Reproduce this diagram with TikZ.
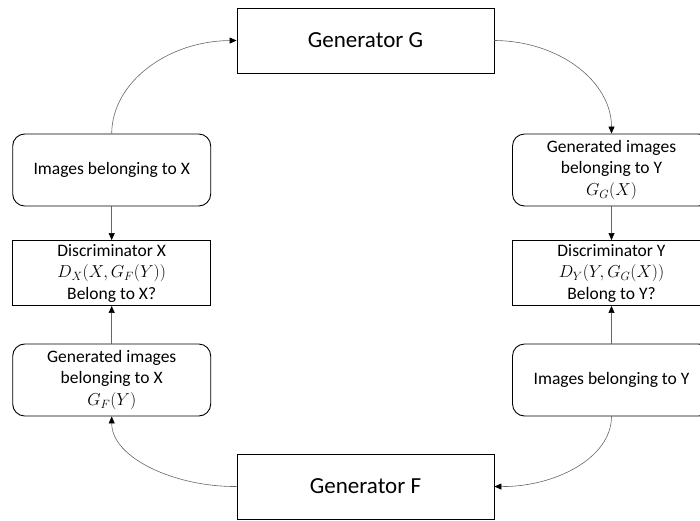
\documentclass[tikz,border=0pt]{standalone}
\usepackage{fontspec}
\setmainfont{Carlito}
\usetikzlibrary{arrows.meta}
\begin{document}
\begin{tikzpicture}[x=1pt,y=-1pt,
  box/.style={draw=black, line width=0.9pt, minimum width=198pt, align=center,
    font=\fontsize{17.5}{21.5}\selectfont, inner sep=0pt},
  rbox/.style={box, rounded corners=12pt, minimum height=72pt},
  dbox/.style={box, minimum height=65pt},
  gbox/.style={draw=black, line width=0.9pt, minimum width=257pt, minimum height=65pt,
    font=\fontsize{23}{26}\selectfont},
  link/.style={draw=black!60, line width=0.6pt,
    -{Triangle[length=7pt,width=6pt,color=black]}}]
\useasboundingbox (0,0) rectangle (700,520);

% generators
\node[gbox] (G) at (365.5,40.5) {Generator G};
\node[gbox] (F) at (365.5,486.5) {Generator F};

% left column: domain X
\node[rbox] (imgX) at (111.7,170) {Images belonging to X};
\node[dbox] (discX) at (111.7,273) {Discriminator X\\ $D_X\bigl(X,G_F(Y)\bigr)$\\ Belong to X?};
\node[rbox] (genX) at (111.7,380) {Generated images\\ belonging to X\\ $G_F(Y)$};

% right column: domain Y
\node[rbox] (genY) at (611.5,170) {Generated images\\ belonging to Y\\ $G_G(X)$};
\node[dbox] (discY) at (611.5,273) {Discriminator Y\\ $D_Y(Y,G_G(X))$\\ Belong to Y?};
\node[rbox] (imgY) at (611.5,380) {Images belonging to Y};

% cycle connectors
\draw[link] (imgX.north) .. controls (112,82) and (168,41) .. (G.west);
\draw[link] (G.east) .. controls (560,41) and (611.5,82) .. (genY.north);
\draw[link] (imgY.south) .. controls (611.5,458) and (555,487) .. (F.east);
\draw[link] (F.west) .. controls (175,487) and (111.7,458) .. (genX.south);

% into the discriminators
\draw[link] (imgX.south) -- (discX.north);
\draw[link] (genX.north) -- (discX.south);
\draw[link] (genY.south) -- (discY.north);
\draw[link] (imgY.north) -- (discY.south);
\end{tikzpicture}
\end{document}
